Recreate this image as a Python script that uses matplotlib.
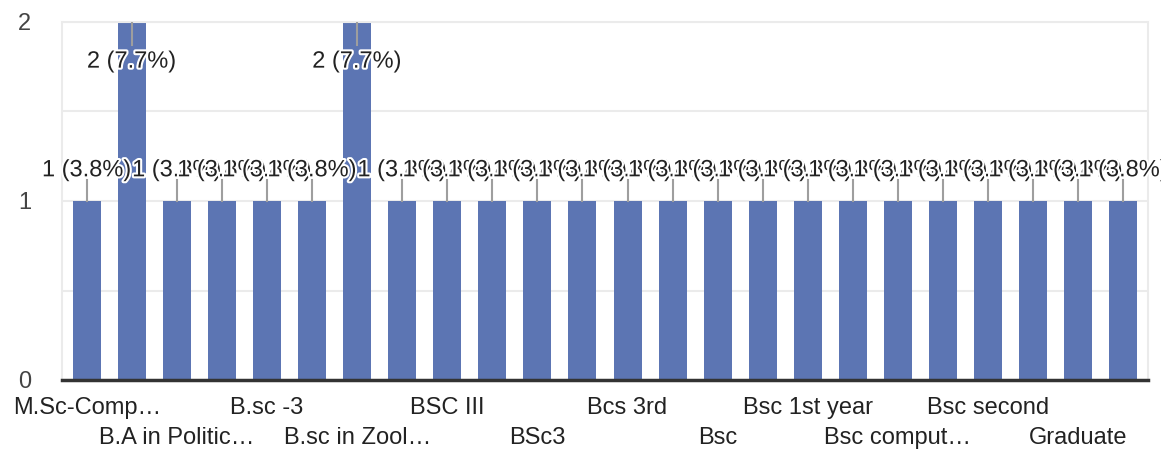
import matplotlib.pyplot as plt
import matplotlib.patheffects as pe
from matplotlib.patches import Rectangle

# responses per course, 24 bars (only every other name shows on the axis)
counts = [1, 2, 1, 1, 1, 1, 2, 1, 1, 1, 1, 1,
          1, 1, 1, 1, 1, 1, 1, 1, 1, 1, 1, 1]
shown_labels = ["M.Sc-Comp\u2026", "B.A in Politic\u2026", "B.sc -3",
                "B.sc in Zool\u2026", "BSC III", "BSc3", "Bcs 3rd", "Bsc",
                "Bsc 1st year", "Bsc comput\u2026", "Bsc second", "Graduate"]
y_ticks = [0, 1, 2]

plt.rcParams['font.family'] = ['Liberation Sans', 'DejaVu Sans']

fig = plt.figure(figsize=(11.61, 4.53), dpi=100)
ax = fig.add_axes([62 / 1161, 1 - 380 / 453, (1148 - 62) / 1161, (380 - 22) / 453])

bar_col = '#5c75b3'
total = sum(counts)
xs = list(range(len(counts)))
ax.bar(xs, counts, width=0.62, color=bar_col, zorder=2)

ax.set_xlim(-0.55, len(counts) - 0.45)
ax.set_ylim(0, max(counts))

# light grid
for g in [0.5, 1, 1.5, 2]:
    ax.axhline(g, color='#ebebeb', lw=1.5, zorder=1)
for s in ['top', 'left', 'right']:
    ax.spines[s].set_color('#ebebeb')
    ax.spines[s].set_linewidth(1.5)
ax.spines['bottom'].set_color('#333333')
ax.spines['bottom'].set_linewidth(2.5)
ax.spines['bottom'].set_zorder(3)

ax.set_yticks(y_ticks)
ax.set_yticklabels([str(t) for t in y_ticks])
ax.tick_params(axis='y', length=0, pad=22, labelsize=17, labelcolor='#444444')

# x labels on every other bar, alternating two rows
tick_pos = xs[::2]
ax.set_xticks(tick_pos)
ax.set_xticklabels([])
ax.tick_params(axis='x', length=0)
for i, (p, lab) in enumerate(zip(tick_pos, shown_labels)):
    off = -0.077 if i % 2 == 0 else -0.163
    ax.text(p, off, lab, ha='center', va='center', fontsize=17, color='#222222',
            transform=ax.get_xaxis_transform(), clip_on=False)

# data labels with leader lines, cut at the chart's right edge
clip = Rectangle((0, 0), 1150 / 1161, 1, transform=fig.transFigure)
ymax = max(counts)
outline = [pe.withStroke(linewidth=3, foreground='white')]
for x, v in zip(xs, counts):
    pct = v / total * 100
    txt = f"{v} ({pct:.1f}%)"
    if v == ymax:
        ax.plot([x, x], [v, v - 0.128], color='#9e9e9e', lw=1.5, zorder=4)
        t = ax.text(x, v - 0.16, txt, ha='center', va='top', fontsize=17,
                    color='#222222', zorder=5, path_effects=outline)
    else:
        ax.plot([x, x], [v, v + 0.12], color='#9e9e9e', lw=1.5, zorder=4)
        t = ax.text(x, v + 0.11, txt, ha='center', va='bottom', fontsize=17,
                    color='#222222', zorder=5, path_effects=outline)
    t.set_clip_path(clip)

fig.savefig('out.png', dpi=100)
